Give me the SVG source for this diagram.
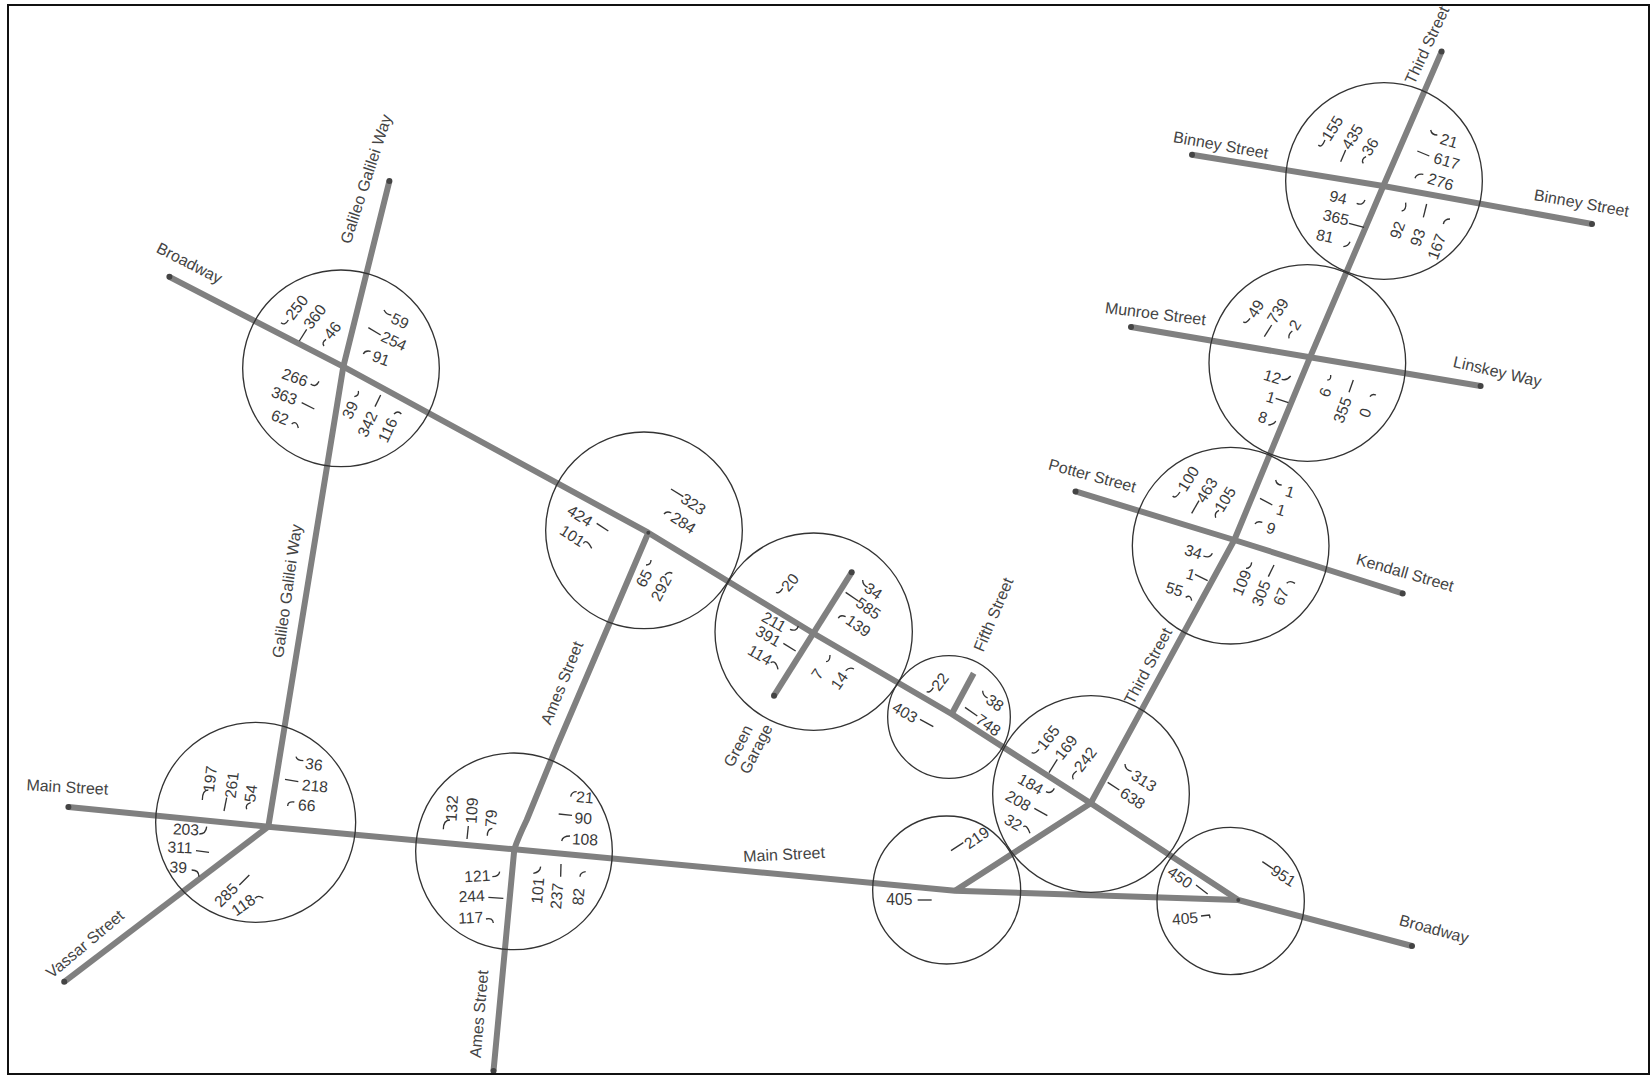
<svg xmlns="http://www.w3.org/2000/svg" width="1650" height="1075" viewBox="0 0 1650 1075">
<style>
text{font-family:"Liberation Sans",Arial,sans-serif;fill:#3a3a3a}
.s{font-size:16px;text-anchor:middle;dominant-baseline:central;fill:#444}
.n text{font-size:47px;text-anchor:middle;dominant-baseline:central}
.n circle{fill:none;stroke:#333;stroke-width:4}
.n path{fill:none;stroke:#333;stroke-width:4}
.r{fill:none;stroke:#808080;stroke-width:6;stroke-linejoin:round}
.d{fill:#444}
</style>
<rect width="1650" height="1075" fill="#fff"/>
<g id="connectors">
<path class="r" d="M169.400 276.800L343.300 366.700L648.300 532.700L813.300 633.300L951.700 714L1090.700 803.300L1238.300 900L1412 946"/>
<path class="r" d="M389.400 181L343.300 366.700L268.300 826.700"/>
<path class="r" d="M68.400 807L268.300 826.700L514.300 849.300L955 890.700L1238.300 900"/>
<path class="r" d="M64.200 981.800L268.300 826.700"/>
<path class="r" d="M648.300 532.700L556.700 746.700L526.700 820Q518 838 514.300 849.300L493.500 1071"/>
<path class="r" d="M955 890.700L1090.700 803.300L1234.300 540L1310 357.300L1383.300 186L1441.600 51.600"/>
<path class="r" d="M973.700 673.300L951.700 714"/>
<path class="r" d="M851.700 572.300L774 695.700"/>
<path class="r" d="M1192 154.700L1383.300 186L1592 224"/>
<path class="r" d="M1131 327L1310 357.300L1480.600 386"/>
<path class="r" d="M1075.500 491.400L1234.300 540L1402.700 593.500"/>
<g class="d">
<circle cx="169.400" cy="276.800" r="3"/><circle cx="389.400" cy="181" r="3"/><circle cx="68.400" cy="807" r="3"/><circle cx="64.200" cy="981.800" r="3"/><circle cx="493.500" cy="1071" r="3"/><circle cx="1412" cy="946" r="3"/><circle cx="1441.600" cy="51.600" r="3"/><circle cx="851.700" cy="572.300" r="3"/><circle cx="774" cy="695.700" r="3"/><circle cx="1192" cy="154.700" r="3"/><circle cx="1592" cy="224" r="3"/><circle cx="1131" cy="327" r="3"/><circle cx="1480.600" cy="386" r="3"/><circle cx="1075.500" cy="491.400" r="3"/><circle cx="1402.700" cy="593.500" r="3"/><circle cx="648.300" cy="532.700" r="2"/><circle cx="1238.300" cy="900" r="2"/>
</g>
</g>
<g id="n1" class="n" transform="translate(220 260) scale(.33333)">
<circle cx="363" cy="325" r="295"/>
<text transform="translate(230 142) rotate(-52)">250</text><path d="M183 188q12 10 22-8"/>
<text transform="translate(284 170) rotate(-52)">360</text><path d="M238 243L260 208"/>
<text transform="translate(337 211) rotate(-52)">46</text><path d="M312 258q-8-10 6-20"/>
<text transform="translate(540 183) rotate(25)">59</text><path d="M492 150q8 15 22 15"/>
<text transform="translate(522 243) rotate(25)">254</text><path d="M445 203L482 225"/>
<text transform="translate(483 295) rotate(20)">91</text><path d="M430 282q5-12 22-8"/>
<text transform="translate(225 352) rotate(20)">266</text><path d="M272 372q15 12 25-8"/>
<text transform="translate(193 407) rotate(20)">363</text><path d="M245 428L283 447"/>
<text transform="translate(180 472) rotate(20)">62</text><path d="M215 492q15-12 20 12"/>
<text transform="translate(390 450) rotate(-65)">39</text><path d="M403 410q15-3 12-17"/>
<text transform="translate(442 492) rotate(-65)">342</text><path d="M465 440L482 405"/>
<text transform="translate(503 510) rotate(-65)">116</text><path d="M522 462q12-12 22 0"/>
</g>
<g id="n2" class="n" transform="translate(140 710) scale(.33333)">
<circle cx="347" cy="337" r="300"/>
<text transform="translate(210 207) rotate(-83)">197</text><path d="M205 240q-18 0-18 30"/>
<text transform="translate(275 225) rotate(-83)">261</text><path d="M260 263L252 303"/>
<text transform="translate(332 250) rotate(-83)">54</text><path d="M320 298q-5-15 12-20"/>
<text transform="translate(522 163) rotate(8)">36</text><path d="M468 140q3 12 22 12"/>
<text transform="translate(525 228) rotate(5)">218</text><path d="M435 208L475 215"/>
<text transform="translate(500 286) rotate(3)">66</text><path d="M443 288q0-15 20-12"/>
<text transform="translate(138 358) rotate(3)">203</text><path d="M178 372q20 0 22-22"/>
<text transform="translate(120 412) rotate(3)">311</text><path d="M168 422L207 427"/>
<text transform="translate(115 472) rotate(3)">39</text><path d="M155 480q22 0 22 20"/>
<text transform="translate(258 555) rotate(-45)">285</text><path d="M298 525L328 495"/>
<text transform="translate(310 585) rotate(-35)">118</text><path d="M345 565q10-12 25 0"/>
</g>
<g id="n3" class="n" transform="translate(400 740) scale(.33333)">
<circle cx="342" cy="334" r="295"/>
<text transform="translate(155 205) rotate(-87)">132</text><path d="M150 240q-20 0-20 28"/>
<text transform="translate(215 212) rotate(-87)">109</text><path d="M205 258L201 297"/>
<text transform="translate(273 235) rotate(-87)">79</text><path d="M262 287q0-20 15-22"/>
<text transform="translate(555 172) rotate(5)">21</text><path d="M512 170q3-15 18-15"/>
<text transform="translate(550 235) rotate(3)">90</text><path d="M476 222L516 226"/>
<text transform="translate(555 298) rotate(3)">108</text><path d="M485 303q3-15 25-15"/>
<text transform="translate(232 408) rotate(-3)">121</text><path d="M277 410q20 0 22-15"/>
<text transform="translate(215 468) rotate(-3)">244</text><path d="M265 472L310 475"/>
<text transform="translate(212 533) rotate(-3)">117</text><path d="M258 537q20-5 22 12"/>
<text transform="translate(413 452) rotate(-85)">101</text><path d="M400 400q20-3 22-20"/>
<text transform="translate(470 468) rotate(-85)">237</text><path d="M483 372L482 410"/>
<text transform="translate(535 470) rotate(-85)">82</text><path d="M540 410q0-12 17-15"/>
</g>
<g id="n4" class="n" transform="translate(540 420) scale(.33333)">
<circle cx="312" cy="331" r="295"/>
<text transform="translate(120 287) rotate(33)">424</text><path d="M170 310L205 333"/>
<text transform="translate(97 347) rotate(33)">101</text><path d="M130 370q10-15 25 15"/>
<text transform="translate(460 252) rotate(33)">323</text><path d="M393 207L430 230"/>
<text transform="translate(430 308) rotate(33)">284</text><path d="M372 282q8-10 22-3"/>
<text transform="translate(312 475) rotate(-62)">65</text><path d="M318 435q15 0 15-15"/>
<text transform="translate(363 505) rotate(-62)">292</text><path d="M375 465q10-12 22-5"/>
</g>
<g id="n5" class="n" transform="translate(700 530) scale(.33333)">
<circle cx="341" cy="305" r="296"/>
<text transform="translate(270 157) rotate(-50)">20</text><path d="M228 187q10 5 20-12"/>
<text transform="translate(520 183) rotate(35)">34</text><path d="M488 150q0 15 15 22"/>
<text transform="translate(505 235) rotate(35)">585</text><path d="M437 187L475 213"/>
<text transform="translate(475 287) rotate(35)">139</text><path d="M415 265q5-12 22-5"/>
<text transform="translate(222 275) rotate(30)">211</text><path d="M270 298q20 8 25-10"/>
<text transform="translate(205 318) rotate(30)">391</text><path d="M250 340L287 363"/>
<text transform="translate(180 375) rotate(30)">114</text><path d="M212 398q15-10 22 20"/>
<text transform="translate(352 432) rotate(-55)">7</text><path d="M378 395q12 0 12-20"/>
<text transform="translate(418 452) rotate(-55)">14</text><path d="M437 422q12-12 25-5"/>
</g>
<g id="n6" class="n" transform="translate(700 530) scale(.33333)">
<circle cx="747" cy="561" r="184"/>
<text transform="translate(720 455) rotate(-52)">22</text><path d="M680 485q10 5 20-12"/>
<text transform="translate(885 518) rotate(35)">38</text><path d="M848 482q0 15 15 22"/>
<text transform="translate(865 585) rotate(35)">748</text><path d="M795 532L832 558"/>
<text transform="translate(615 547) rotate(30)">403</text><path d="M660 568L700 590"/>
</g>
<g id="n7" class="n" transform="translate(980 690) scale(.33333)">
<circle cx="333" cy="312" r="295"/>
<text transform="translate(205 143) rotate(-52)">165</text><path d="M155 188q10 5 22-10"/>
<text transform="translate(258 172) rotate(-52)">169</text><path d="M207 248L232 208"/>
<text transform="translate(316 208) rotate(-52)">242</text><path d="M280 268q-8-12 10-25"/>
<text transform="translate(492 272) rotate(33)">313</text><path d="M435 222q0 18 20 22"/>
<text transform="translate(458 325) rotate(33)">638</text><path d="M383 277L418 300"/>
<text transform="translate(152 282) rotate(30)">184</text><path d="M198 305q15 8 25-10"/>
<text transform="translate(115 332) rotate(30)">208</text><path d="M163 355L202 377"/>
<text transform="translate(100 397) rotate(30)">32</text><path d="M130 410q10-8 20 20"/>
</g>
<g id="n8" class="n" transform="translate(980 690) scale(.33333)">
<circle cx="752" cy="633" r="221"/>
<text transform="translate(600 562) rotate(35)">450</text><path d="M648 585L683 612"/>
<text transform="translate(910 557) rotate(33)">951</text><path d="M847 515L880 537"/>
<text transform="translate(615 685) rotate(-5)">405</text><path d="M663 678L688 675q2 5 2 10"/>
</g>
<g id="n9" class="n" transform="translate(860 800) scale(.33333)">
<circle cx="260" cy="270" r="222"/>
<text transform="translate(350 113) rotate(-35)">219</text><path d="M273 152L310 128"/>
<text transform="translate(118 300)">405</text><path d="M173 300L215 300"/>
</g>
<g id="n10" class="n" transform="translate(1120 440) scale(.33333)">
<circle cx="332" cy="317" r="295"/>
<text transform="translate(205 116) rotate(-58)">100</text><path d="M158 168q8 10 22-12"/>
<text transform="translate(260 150) rotate(-58)">463</text><path d="M215 220L237 182"/>
<text transform="translate(315 178) rotate(-58)">105</text><path d="M287 233q-5-15 10-22"/>
<text transform="translate(510 155) rotate(17)">1</text><path d="M467 120q3 15 18 15"/>
<text transform="translate(483 210) rotate(17)">1</text><path d="M420 175L457 195"/>
<text transform="translate(453 265) rotate(17)">9</text><path d="M405 252q5-10 22-5"/>
<text transform="translate(220 335) rotate(17)">34</text><path d="M250 348q20 8 27-8"/>
<text transform="translate(212 403) rotate(17)">1</text><path d="M225 403L263 422"/>
<text transform="translate(163 448) rotate(17)">55</text><path d="M197 472q15-10 18 10"/>
<text transform="translate(365 428) rotate(-68)">109</text><path d="M378 385q15 0 17-18"/>
<text transform="translate(423 460) rotate(-68)">305</text><path d="M445 410L462 375"/>
<text transform="translate(483 470) rotate(-68)">67</text><path d="M500 430q10-10 25 0"/>
</g>
<g id="n11" class="n" transform="translate(1200 270) scale(.33333)">
<circle cx="322" cy="279" r="295"/>
<text transform="translate(167 116) rotate(-58)">49</text><path d="M130 155q8 8 20-10"/>
<text transform="translate(233 122) rotate(-58)">739</text><path d="M193 200L215 165"/>
<text transform="translate(285 165) rotate(-58)">2</text><path d="M267 205q-3-12 10-22"/>
<text transform="translate(217 320) rotate(17)">12</text><path d="M245 328q15 5 27-10"/>
<text transform="translate(212 382) rotate(17)">1</text><path d="M227 385L265 398"/>
<text transform="translate(188 442) rotate(17)">8</text><path d="M205 465q18-2 22-12"/>
<text transform="translate(375 367) rotate(-70)">6</text><path d="M382 330q12 0 10-15"/>
<text transform="translate(427 420) rotate(-70)">355</text><path d="M447 367L460 330"/>
<text transform="translate(495 428) rotate(-70)">0</text><path d="M510 380q5-10 18-5"/>
</g>
<g id="n12" class="n" transform="translate(1280 80) scale(.33333)">
<circle cx="312" cy="303" r="295"/>
<text transform="translate(157 145) rotate(-58)">155</text><path d="M115 195q10 10 20-15"/>
<text transform="translate(217 170) rotate(-58)">435</text><path d="M182 245L197 210"/>
<text transform="translate(270 200) rotate(-58)">36</text><path d="M250 250q-8-12 8-20"/>
<text transform="translate(507 182) rotate(17)">21</text><path d="M452 150q3 15 20 15"/>
<text transform="translate(500 243) rotate(17)">617</text><path d="M412 213L448 228"/>
<text transform="translate(482 305) rotate(17)">276</text><path d="M405 295q5-15 25-12"/>
<text transform="translate(175 352) rotate(13)">94</text><path d="M230 370q18 8 25-10"/>
<text transform="translate(168 412) rotate(13)">365</text><path d="M207 430L252 442"/>
<text transform="translate(135 468) rotate(13)">81</text><path d="M190 500q15-2 20-15"/>
<text transform="translate(352 450) rotate(-70)">92</text><path d="M365 393q15-2 12-25"/>
<text transform="translate(413 472) rotate(-70)">93</text><path d="M430 412L440 372"/>
<text transform="translate(470 500) rotate(-70)">167</text><path d="M490 432q3-15 20-15"/>
</g>
<g id="labels">
<text class="s" transform="translate(366 179) rotate(-72)">Galileo Galilei Way</text>
<text class="s" transform="translate(189.400 263) rotate(27)">Broadway</text>
<text class="s" transform="translate(287 591) rotate(-82)">Galileo Galilei Way</text>
<text class="s" transform="translate(67.300 787) rotate(3)">Main Street</text>
<text class="s" transform="translate(85 944) rotate(-40)">Vassar Street</text>
<text class="s" transform="translate(479 1014) rotate(-85)">Ames Street</text>
<text class="s" transform="translate(562 683) rotate(-68)">Ames Street</text>
<text class="s" transform="translate(784 854.400) rotate(-3)">Main Street</text>
<text class="s" transform="translate(738 746) rotate(-63)">Green</text>
<text class="s" transform="translate(756 749) rotate(-63)">Garage</text>
<text class="s" transform="translate(993.400 614.500) rotate(-67)">Fifth Street</text>
<text class="s" transform="translate(1148 666) rotate(-62)">Third Street</text>
<text class="s" transform="translate(1427 45) rotate(-65)">Third Street</text>
<text class="s" transform="translate(1220.700 145) rotate(10)">Binney Street</text>
<text class="s" transform="translate(1581.600 203) rotate(10)">Binney Street</text>
<text class="s" transform="translate(1155.400 313.600) rotate(7)">Munroe Street</text>
<text class="s" transform="translate(1497.400 371.500) rotate(13)">Linskey Way</text>
<text class="s" transform="translate(1092.300 475.600) rotate(15)">Potter Street</text>
<text class="s" transform="translate(1405 572.500) rotate(16)">Kendall Street</text>
<text class="s" transform="translate(1434 929) rotate(15)">Broadway</text>
</g>
<rect width="1650" height="4" fill="#fff"/>
<rect x="8" y="5" width="1641" height="1069" fill="none" stroke="#111" stroke-width="2"/>
</svg>
